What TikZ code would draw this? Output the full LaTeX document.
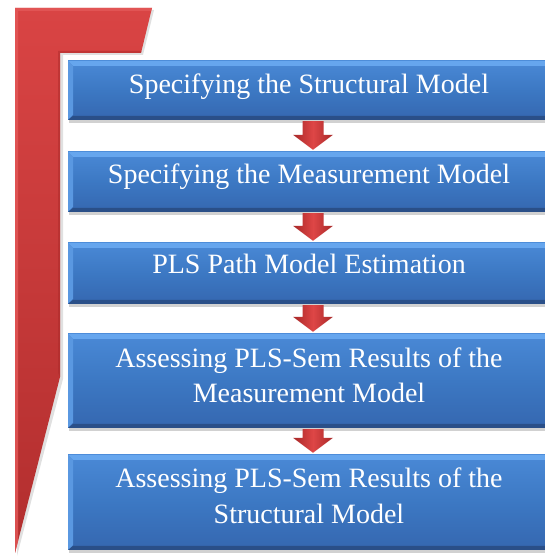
\documentclass[tikz,border=0pt]{standalone}
\usepackage{fontspec}
\setmainfont{Liberation Serif}
\usetikzlibrary{calc}
\definecolor{boxtop}{HTML}{4A89D6}
\definecolor{boxmid}{HTML}{3C78C3}
\definecolor{boxbot}{HTML}{3567B0}
\definecolor{boxlight}{HTML}{66A6EE}
\definecolor{boxdark}{HTML}{2A4F88}
\definecolor{redtop}{HTML}{D94444}
\definecolor{redbot}{HTML}{B22E2E}
\definecolor{redlight}{HTML}{E45858}
\definecolor{reddark}{HTML}{A82828}
\definecolor{arrowmid}{HTML}{DE4646}
\begin{document}
\begin{tikzpicture}[x=1pt,y=1pt,
  box/.style={rectangle, minimum width=482pt, inner sep=0pt,
    top color=boxtop, bottom color=boxbot, middle color=boxmid,
    path picture={
      \fill[boxlight] (path picture bounding box.north west) -- (path picture bounding box.north east)
        -- ([xshift=-5pt,yshift=-5pt]path picture bounding box.north east)
        -- ([xshift=5pt,yshift=-5pt]path picture bounding box.north west) -- cycle;
      \fill[boxlight!70!boxmid] (path picture bounding box.north west)
        -- ([xshift=5pt,yshift=-5pt]path picture bounding box.north west)
        -- ([xshift=5pt,yshift=5pt]path picture bounding box.south west)
        -- (path picture bounding box.south west) -- cycle;
      \fill[boxdark] (path picture bounding box.south west) -- (path picture bounding box.south east)
        -- ([xshift=-5pt,yshift=4pt]path picture bounding box.south east)
        -- ([xshift=5pt,yshift=4pt]path picture bounding box.south west) -- cycle;
    }},
  boxshadow/.style={fill=black, opacity=0.18},
  lbl/.style={text=white, font=\fontsize{28}{35.5}\selectfont, align=center, inner sep=0pt},
  redarrow/.style={left color=reddark, right color=reddark, middle color=arrowmid},
]
\useasboundingbox (0,0) rectangle (545,557);
\clip (0,0) rectangle (545,557);
\fill[white] (0,0) rectangle (545,557);

% red bracket
\fill[black, opacity=0.12] (17,547) -- (154,547) -- (143,502) -- (63,502) -- (63,178) -- (17,1) -- cycle;
\shade[top color=redtop, bottom color=redbot] (15,549) -- (152,549) -- (141,504) -- (60,504) -- (60,180) -- (15,4) -- cycle;
\fill[redlight, opacity=0.8] (15,549) -- (152,549) -- (151,546) -- (18,546) -- (18,16) -- (15,4) -- cycle;
\fill[reddark, opacity=0.45] (141,504) -- (60,504) -- (60,180) -- (58,184) -- (58,506) -- (141.5,506) -- cycle;

% box shadows
\foreach \cy/\h in {466.5/59, 375/60, 283.5/61, 176/94, 54.5/95}
  \fill[boxshadow] (69,{\cy-\h/2-3}) rectangle (551,{\cy+\h/2-3});

% boxes
\node[box, minimum height=59pt] (b1) at (309,466.5) {};
\node[box, minimum height=60pt] (b2) at (309,375) {};
\node[box, minimum height=61pt] (b3) at (309,283.5) {};
\node[box, minimum height=94pt] (b4) at (309,176) {};
\node[box, minimum height=95pt] (b5) at (309,54.5) {};

% labels
\node[lbl, anchor=base] (t1) at ($(b1.center)+(0,-3)$) {Specifying the Structural Model};
\node[lbl, anchor=base] (t2) at ($(b2.center)+(0,-1.5)$) {Specifying the Measurement Model};
\node[lbl, anchor=base] (t3) at ($(b3.center)+(0,0)$) {PLS Path Model Estimation};
\node[lbl] (t4) at ($(b4.center)+(0,5.5)$) {Assessing PLS-Sem Results of the\\Measurement Model};
\node[lbl] (t5) at ($(b5.center)+(0,6.5)$) {Assessing PLS-Sem Results of the\\Structural Model};

% arrows
\foreach \a/\b in {b1/b2,b2/b3,b3/b4,b4/b5}
  \path[redarrow] let \p1=(\a.south), \p2=(\b.north) in
    ({\x1+4pt-10.5pt},{\y1-1pt}) -- ({\x1+4pt+10.5pt},{\y1-1pt})
    -- ({\x1+4pt+10.5pt},{\y2+17pt}) -- ({\x1+4pt+20pt},{\y2+17pt})
    -- ({\x1+4pt},{\y2+2pt}) -- ({\x1+4pt-20pt},{\y2+17pt})
    -- ({\x1+4pt-10.5pt},{\y2+17pt}) -- cycle;
\end{tikzpicture}
\end{document}
